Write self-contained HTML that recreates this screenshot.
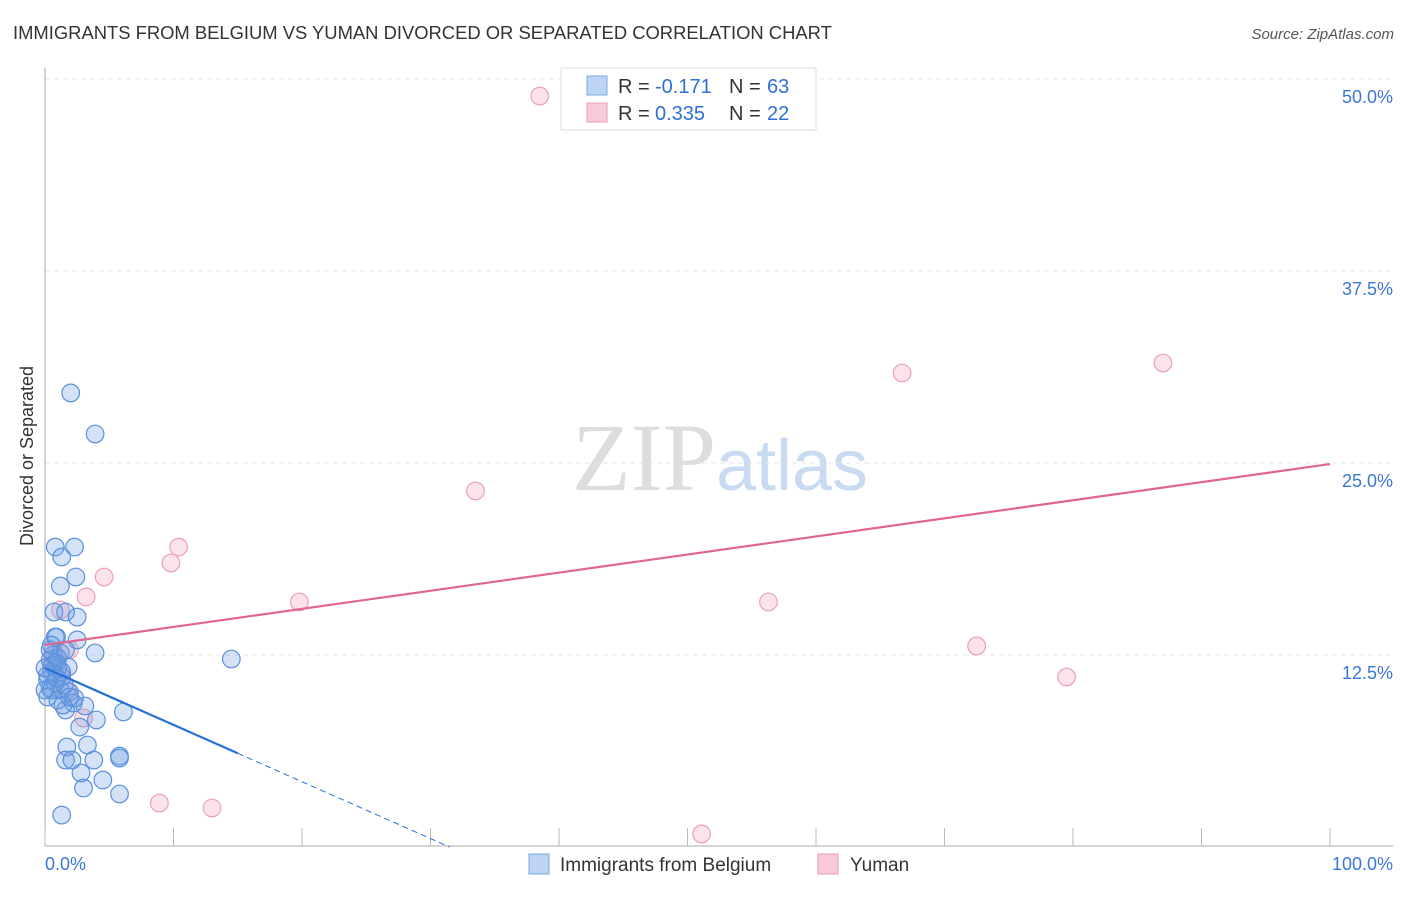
<!DOCTYPE html>
<html><head><meta charset="utf-8"><style>
body{margin:0;background:#fff;font-family:"Liberation Sans",sans-serif}
</style></head><body>
<svg id="chart" width="1406" height="892" xmlns="http://www.w3.org/2000/svg" font-family="Liberation Sans, sans-serif">
<text x="13" y="39" font-size="18.4" fill="#333">IMMIGRANTS FROM BELGIUM VS YUMAN DIVORCED OR SEPARATED CORRELATION CHART</text>
<text x="1394" y="39" font-size="15" fill="#555" text-anchor="end" font-style="italic">Source: ZipAtlas.com</text>
<text x="720" y="490" font-size="96" text-anchor="middle"><tspan fill="#ddd" font-family="Liberation Serif, serif">ZIP</tspan><tspan fill="#c9dbf2" font-size="72">atlas</tspan></text>
<g id="grid"></g>
<g id="axes"></g>
<g id="marks"></g>
<text transform="translate(33,456) rotate(-90)" font-size="18" fill="#333" text-anchor="middle">Divorced or Separated</text>
<g>
<rect x="561" y="68" width="255" height="62" fill="#fff" stroke="#ddd"/>
<rect x="587" y="76" width="20" height="19" fill="#bcd5f5" stroke="#7aa6e0"/>
<rect x="587" y="103" width="20" height="19" fill="#f9cad8" stroke="#eb9db6"/>
<text x="618" y="93" font-size="20" fill="#333">R =</text>
<text x="655" y="93" font-size="20" fill="#2f6fd6">-0.171</text>
<text x="729" y="93" font-size="20" fill="#333">N =</text>
<text x="767" y="93" font-size="20" fill="#2f6fd6">63</text>
<text x="618" y="120" font-size="20" fill="#333">R =</text>
<text x="655" y="120" font-size="20" fill="#2f6fd6">0.335</text>
<text x="729" y="120" font-size="20" fill="#333">N =</text>
<text x="767" y="120" font-size="20" fill="#2f6fd6">22</text>
</g>
<g>
<rect x="529" y="854" width="20" height="20" fill="#bcd5f5" stroke="#7aa6e0"/>
<text x="560" y="871" font-size="19" fill="#333">Immigrants from Belgium</text>
<rect x="818" y="854" width="20" height="20" fill="#f9cad8" stroke="#eb9db6"/>
<text x="850" y="871" font-size="19" fill="#333">Yuman</text>
</g>
</svg>
<script>
const yTicks=[12.5,25.0,37.5,50.0];
const xTickLabels=["0.0%","100.0%"];
const blueX=[2.0,3.9,0.8,2.3,1.3,2.4,1.2,0.7,1.6,2.5,0.8,0.9,2.5,3.9,1.2,0.6,0.4,0.9,1.8,0.5,0.2,1.3,0.8,0.4,1.2,1.9,0.2,1.0,2.2,3.1,1.6,2.7,4.0,6.1,1.7,3.3,1.6,2.1,3.8,5.8,5.8,2.8,3.0,4.5,5.8,1.3,14.5,0.4,0.6,0.2,1.0,1.3,0.0,0.5,0.9,1.5,2.3,1.4,1.9,0.0,0.5,1.0,1.6];
const blueY=[29.56,26.89,19.53,19.53,18.88,17.58,16.99,15.30,15.30,14.97,13.67,13.67,13.48,12.63,12.63,12.50,12.17,11.98,11.72,11.39,10.87,11.07,10.68,10.35,10.22,10.09,9.77,9.57,9.38,9.18,8.92,7.81,8.27,8.79,6.51,6.64,5.66,5.66,5.66,5.92,5.79,4.82,3.84,4.36,3.45,2.08,12.24,12.83,11.85,11.20,11.65,11.39,11.65,10.22,11.00,10.55,9.70,9.24,9.77,10.22,13.15,12.30,12.83];
const pinkX=[38.5,66.7,87.0,33.5,10.4,9.8,4.6,3.2,19.8,56.3,72.5,79.5,1.2,1.9,0.8,1.7,3.0,8.9,13.0,51.1,0.5,1.2];
const pinkY=[48.89,30.86,31.51,23.18,19.53,18.49,17.58,16.28,15.95,15.95,13.09,11.07,15.43,12.83,12.50,10.22,8.40,2.86,2.54,0.85,11.85,11.52];
const pinkTrend=[13.15,24.93];
const blueTrend=[11.65,-0.37];
const NS="http://www.w3.org/2000/svg";
const sx=v=>45+v*12.85, sy=v=>847-v*15.36;
function mk(tag,attrs,parent){const e=document.createElementNS(NS,tag);for(const k in attrs)e.setAttribute(k,attrs[k]);parent.appendChild(e);return e;}
const grid=document.getElementById('grid'),axes=document.getElementById('axes'),marks=document.getElementById('marks');
yTicks.forEach(t=>{
 const l=mk('line',{x1:45,x2:1393,y1:sy(t),y2:sy(t),stroke:'#e4e4e4','stroke-dasharray':'5,4'},grid);
 
 
 const tx=mk('text',{x:1393,y:sy(t)+24,'font-size':18,fill:'#3a78d8','text-anchor':'end'},axes);
 tx.textContent=t.toFixed(1)+'%';
 
 
});
const ya=mk('line',{x1:45,x2:45,y1:68,y2:846,stroke:'#aaa'},axes);


const xa=mk('line',{x1:45,x2:1393,y1:846,y2:846,stroke:'#aaa'},axes);


for(let i=0;i<=10;i++){const t=mk('line',{x1:sx(i*10),x2:sx(i*10),y1:828,y2:846,stroke:'#bbb'},axes);
 
 }
[[0,'start',45],[100,'end',1393]].forEach((d,i)=>{const tx=mk('text',{x:d[2],y:870,'font-size':18,fill:'#3a78d8','text-anchor':d[1]},axes);tx.textContent=xTickLabels[i];
 
 });
pinkX.forEach((x,i)=>{const c=mk('circle',{cx:sx(x),cy:sy(pinkY[i]),r:8.8,fill:'rgba(245,160,190,0.3)',stroke:'#eba0b8','stroke-width':1.2},marks);
 
 });
blueX.forEach((x,i)=>{const c=mk('circle',{cx:sx(x),cy:sy(blueY[i]),r:8.8,fill:'rgba(110,160,230,0.3)',stroke:'#5a90dc','stroke-width':1.2},marks);
 
 });
const pl=mk('line',{x1:sx(0),y1:sy(pinkTrend[0]),x2:sx(100),y2:sy(pinkTrend[1]),stroke:'#e0668f','stroke-width':2.2},marks);


const bEnd=15, bZero=-blueTrend[0]/blueTrend[1];
const bl=mk('line',{x1:sx(0),y1:sy(blueTrend[0]),x2:sx(bEnd),y2:sy(blueTrend[0]+blueTrend[1]*bEnd),stroke:'#2470d8','stroke-width':2.2},marks);


const bd=mk('line',{x1:sx(bEnd),y1:sy(blueTrend[0]+blueTrend[1]*bEnd),x2:sx(bZero),y2:sy(0),stroke:'#2470d8','stroke-width':1,'stroke-dasharray':'6,4'},marks);


</script>
</body></html>
